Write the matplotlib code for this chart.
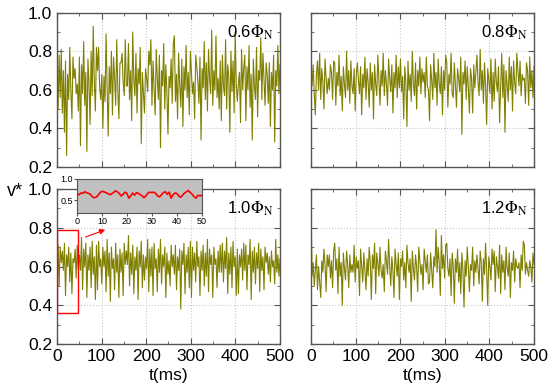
import numpy as np
import matplotlib.pyplot as plt
from matplotlib.patches import Rectangle

plt.rcParams['font.family'] = ['Liberation Sans', 'DejaVu Sans']
plt.rcParams['mathtext.fontset'] = 'stix'

# values (v* vs t, 0-500 ms)
v_06 = [0.72, 0.50, 0.78, 0.56, 0.81, 0.48, 0.70, 0.38, 0.75, 0.26, 0.68, 0.55, 0.82, 0.60, 0.45, 0.77,
        0.66, 0.71, 0.58, 0.63, 0.49, 0.77,
        0.31, 0.73, 0.58, 0.85, 0.52, 0.69, 0.28, 0.76, 0.63, 0.42, 0.80, 0.57, 0.93, 0.64, 0.49, 0.82,
        0.70, 0.82, 0.61, 0.55, 0.68, 0.40,
        0.67, 0.54, 0.89, 0.61, 0.36, 0.72, 0.58, 0.80, 0.47, 0.77, 0.66, 0.52, 0.86, 0.60, 0.45, 0.74,
        0.74, 0.79, 0.64, 0.57, 0.86, 0.62,
        0.62, 0.84, 0.55, 0.70, 0.44, 0.90, 0.65, 0.57, 0.79, 0.48, 0.71, 0.63, 0.82, 0.32, 0.69, 0.58,
        0.48, 0.71, 0.66, 0.59, 0.80, 0.73,
        0.86, 0.52, 0.75, 0.61, 0.47, 0.81, 0.66, 0.55, 0.78, 0.30, 0.70, 0.62, 0.84, 0.50, 0.73, 0.59,
        0.37, 0.67, 0.61, 0.76, 0.53, 0.84,
        0.88, 0.54, 0.68, 0.45, 0.79, 0.63, 0.51, 0.76, 0.41, 0.72, 0.60, 0.83, 0.56, 0.69, 0.47, 0.80,
        0.69, 0.58, 0.64, 0.45, 0.78, 0.72,
        0.65, 0.53, 0.77, 0.34, 0.71, 0.61, 0.85, 0.55, 0.74, 0.49, 0.81, 0.66, 0.58, 0.91, 0.52, 0.70,
        0.60, 0.88, 0.56, 0.66, 0.50, 0.75,
        0.44, 0.78, 0.62, 0.57, 0.86, 0.50, 0.73, 0.67, 0.38, 0.80, 0.59, 0.75, 0.48, 0.90, 0.63, 0.54,
        0.63, 0.69, 0.43, 0.81, 0.60, 0.71,
        0.78, 0.44, 0.72, 0.60, 0.83, 0.51, 0.68, 0.34, 0.76, 0.62, 0.55, 0.82, 0.46, 0.70, 0.65, 0.87,
        0.55, 0.79, 0.65, 0.52, 0.74, 0.68,
        0.53, 0.74, 0.41, 0.69, 0.60, 0.78, 0.33, 0.70, 0.62, 0.83, 0.58, 0.73]

v_08 = [0.70, 0.62, 0.73, 0.58, 0.47, 0.68, 0.75, 0.60, 0.79, 0.55, 0.71, 0.64, 0.50, 0.76, 0.66, 0.58,
        0.66, 0.60, 0.73, 0.69, 0.55, 0.75,
        0.74, 0.52, 0.69, 0.62, 0.78, 0.57, 0.67, 0.49, 0.72, 0.63, 0.56, 0.80, 0.60, 0.70, 0.53, 0.75,
        0.62, 0.58, 0.71, 0.49, 0.68, 0.74,
        0.65, 0.58, 0.72, 0.47, 0.68, 0.61, 0.77, 0.55, 0.71, 0.64, 0.51, 0.74, 0.60, 0.69, 0.45, 0.73,
        0.63, 0.57, 0.78, 0.65, 0.52, 0.70,
        0.62, 0.79, 0.57, 0.70, 0.63, 0.52, 0.76, 0.66, 0.59, 0.73, 0.48, 0.69, 0.61, 0.78, 0.56, 0.72,
        0.61, 0.76, 0.59, 0.67, 0.45, 0.72,
        0.64, 0.41, 0.75, 0.60, 0.68, 0.54, 0.80, 0.63, 0.57, 0.74, 0.50, 0.70, 0.62, 0.77, 0.58, 0.71,
        0.64, 0.69, 0.56, 0.77, 0.62, 0.60,
        0.44, 0.73, 0.65, 0.55, 0.79, 0.61, 0.69, 0.52, 0.76, 0.63, 0.58, 0.72, 0.47, 0.70, 0.60, 0.78,
        0.74, 0.51, 0.68, 0.63, 0.79, 0.58,
        0.56, 0.74, 0.62, 0.51, 0.71, 0.66, 0.59, 0.77, 0.37, 0.69, 0.63, 0.75, 0.55, 0.72, 0.61, 0.48,
        0.71, 0.66, 0.48, 0.73, 0.61, 0.69,
        0.78, 0.64, 0.57, 0.81, 0.60, 0.70, 0.53, 0.74, 0.62, 0.42, 0.71, 0.65, 0.58, 0.76, 0.50, 0.69,
        0.54, 0.76, 0.64, 0.59, 0.72, 0.43,
        0.61, 0.79, 0.56, 0.73, 0.38, 0.70, 0.63, 0.54, 0.77, 0.60, 0.72, 0.49, 0.75, 0.64, 0.58, 0.79,
        0.70, 0.62, 0.75, 0.57, 0.68, 0.65,
        0.66, 0.53, 0.74, 0.70, 0.52, 0.77, 0.61, 0.70, 0.56, 0.72]

v_10 = [0.66, 0.71, 0.50, 0.70, 0.62, 0.68, 0.58, 0.72, 0.45, 0.66, 0.60, 0.70, 0.52, 0.67, 0.46, 0.64,
        0.62, 0.69, 0.54, 0.71, 0.58, 0.66,
        0.58, 0.75, 0.48, 0.69, 0.60, 0.72, 0.44, 0.66, 0.58, 0.70, 0.49, 0.73, 0.56, 0.65, 0.43, 0.71,
        0.48, 0.73, 0.60, 0.64, 0.51, 0.70,
        0.60, 0.68, 0.47, 0.74, 0.55, 0.67, 0.42, 0.70, 0.59, 0.64, 0.48, 0.72, 0.57, 0.66, 0.44, 0.69,
        0.57, 0.67, 0.45, 0.72, 0.61, 0.68,
        0.61, 0.76, 0.50, 0.67, 0.56, 0.71, 0.46, 0.65, 0.58, 0.70, 0.43, 0.68, 0.60, 0.73, 0.49, 0.66,
        0.53, 0.65, 0.59, 0.74, 0.47, 0.69,
        0.55, 0.70, 0.45, 0.72, 0.59, 0.64, 0.47, 0.69, 0.57, 0.74, 0.51, 0.66, 0.60, 0.70, 0.44, 0.67,
        0.56, 0.63, 0.50, 0.71, 0.60, 0.66,
        0.56, 0.71, 0.48, 0.65, 0.58, 0.69, 0.38, 0.68, 0.61, 0.72, 0.46, 0.66, 0.57, 0.70, 0.49, 0.73,
        0.44, 0.70, 0.58, 0.67, 0.52, 0.73,
        0.60, 0.65, 0.45, 0.68, 0.58, 0.71, 0.50, 0.67, 0.55, 0.74, 0.47, 0.69, 0.61, 0.66, 0.44, 0.70,
        0.61, 0.64, 0.49, 0.68, 0.57, 0.71,
        0.57, 0.72, 0.52, 0.68, 0.59, 0.75, 0.46, 0.67, 0.56, 0.70, 0.49, 0.73, 0.60, 0.65, 0.45, 0.69,
        0.46, 0.66, 0.60, 0.69, 0.53, 0.72,
        0.58, 0.71, 0.48, 0.66, 0.61, 0.74, 0.43, 0.68, 0.57, 0.70, 0.51, 0.67, 0.59, 0.72, 0.47, 0.69,
        0.58, 0.65, 0.48, 0.70, 0.62, 0.67,
        0.56, 0.65, 0.52, 0.68, 0.60, 0.63, 0.51, 0.74, 0.57, 0.66, 0.55, 0.64]

v_12 = [0.91, 0.55, 0.62, 0.50, 0.58, 0.66, 0.48, 0.60, 0.52, 0.44, 0.63, 0.57, 0.69, 0.61, 0.47, 0.66,
        0.60, 0.66, 0.54, 0.63, 0.49, 0.68,
        0.72, 0.58, 0.64, 0.46, 0.70, 0.55, 0.62, 0.40, 0.67, 0.59, 0.53, 0.68, 0.61, 0.49, 0.66, 0.57,
        0.61, 0.57, 0.71, 0.52, 0.65, 0.59,
        0.63, 0.45, 0.69, 0.60, 0.52, 0.67, 0.58, 0.48, 0.64, 0.55, 0.70, 0.62, 0.43, 0.66, 0.59, 0.72,
        0.46, 0.67, 0.62, 0.55, 0.70, 0.58,
        0.54, 0.61, 0.47, 0.68, 0.63, 0.56, 0.74, 0.60, 0.50, 0.65, 0.58, 0.44, 0.69, 0.61, 0.55, 0.67,
        0.43, 0.64, 0.60, 0.68, 0.53, 0.62,
        0.49, 0.71, 0.62, 0.57, 0.64, 0.42, 0.68, 0.59, 0.53, 0.66, 0.60, 0.47, 0.70, 0.63, 0.56, 0.61,
        0.48, 0.69, 0.63, 0.57, 0.66, 0.51,
        0.52, 0.67, 0.58, 0.49, 0.65, 0.60, 0.79, 0.57, 0.70, 0.62, 0.45, 0.76, 0.59, 0.66, 0.54, 0.71,
        0.72, 0.59, 0.55, 0.64, 0.45, 0.67,
        0.60, 0.41, 0.64, 0.57, 0.69, 0.52, 0.62, 0.46, 0.67, 0.58, 0.39, 0.63, 0.55, 0.70, 0.60, 0.47,
        0.61, 0.58, 0.70, 0.50, 0.63, 0.57,
        0.66, 0.59, 0.51, 0.68, 0.62, 0.42, 0.64, 0.56, 0.72, 0.58, 0.40, 0.65, 0.60, 0.53, 0.69, 0.61,
        0.68, 0.47, 0.65, 0.60, 0.54, 0.71,
        0.46, 0.66, 0.57, 0.63, 0.48, 0.70, 0.59, 0.55, 0.67, 0.44, 0.62, 0.58, 0.68, 0.52, 0.64, 0.60,
        0.59, 0.62, 0.49, 0.66, 0.58, 0.73,
        0.71, 0.56, 0.62, 0.58, 0.55, 0.63, 0.60, 0.52, 0.67, 0.61]

# zoom of the first 50 ms at 1.0 Phi_N
v_zoom = [0.65, 0.63, 0.67, 0.66, 0.70, 0.68, 0.66, 0.64, 0.58, 0.56, 0.57, 0.62, 0.68, 0.71, 0.70, 0.68,
          0.66, 0.63, 0.65, 0.68, 0.72, 0.70, 0.66, 0.60, 0.64, 0.69, 0.66, 0.55, 0.60, 0.67, 0.62, 0.68,
          0.66, 0.63, 0.60, 0.56, 0.61, 0.67, 0.69, 0.68, 0.69, 0.66, 0.60, 0.58, 0.63, 0.68, 0.70, 0.64,
          0.69, 0.55, 0.63, 0.67, 0.66, 0.60, 0.57, 0.62, 0.67, 0.70, 0.73, 0.68, 0.64, 0.58, 0.55, 0.62,
          0.60, 0.62]

series = [v_06, v_08, v_10, v_12]
labels = ['0.6', '0.8', '1.0', '1.2']

LINE = '#7f7f00'
FRAME = '#555555'


def style_axes(ax, show_x, show_y):
    ax.set_xlim(0, 500)
    ax.set_ylim(0.2, 1.0)
    ax.set_xticks(np.arange(0, 501, 100))
    ax.set_xticks(np.arange(50, 500, 100), minor=True)
    ax.set_yticks(np.arange(0.2, 1.01, 0.2))
    ax.set_yticks(np.arange(0.3, 1.0, 0.2), minor=True)
    ax.grid(True, which='major', color='#c8c8c8', linestyle=':', linewidth=0.8)
    ax.tick_params(which='both', direction='in', top=True, right=True,
                   color=FRAME, labelsize=12.5)
    ax.tick_params(which='major', length=4)
    ax.tick_params(which='minor', length=2)
    for s in ax.spines.values():
        s.set_color(FRAME)
        s.set_linewidth(1.0)
    if not show_x:
        ax.tick_params(labelbottom=False)
    if not show_y:
        ax.tick_params(labelleft=False)
    else:
        ax.yaxis.set_major_formatter(plt.FormatStrFormatter('%.1f'))


fig = plt.figure(figsize=(5.5, 3.87), dpi=100)
positions = [[0.1036, 0.5685, 0.4055, 0.3987],
             [0.5655, 0.5685, 0.4055, 0.3987],
             [0.1036, 0.1111, 0.4055, 0.4005],
             [0.5655, 0.1111, 0.4055, 0.4005]]

axes = []
for i, (pos, v, lab) in enumerate(zip(positions, series, labels)):
    ax = fig.add_axes(pos)
    t = np.linspace(0, 500, len(v))
    ax.plot(t, v, color=LINE, linewidth=0.8)
    style_axes(ax, show_x=(i >= 2), show_y=(i % 2 == 0))
    ax.text(0.97, 0.93, lab + r'$\Phi_{\rm N}$', transform=ax.transAxes,
            ha='right', va='top', fontsize=12)
    if i >= 2:
        ax.set_xlabel('t(ms)', fontsize=12.5, labelpad=3)
    axes.append(ax)

fig.text(0.028, 0.505, 'v*', fontsize=13, ha='center', va='center')

# zoom box and arrow on the 1.0 panel
ax = axes[2]
ax.add_patch(Rectangle((0, 0.36), 47, 0.43, fill=False, edgecolor='red',
                       linewidth=1.0, zorder=5))
ax.annotate('', xy=(114, 0.795), xytext=(58, 0.747),
            arrowprops=dict(arrowstyle='-|>', color='red', lw=0.8,
                            mutation_scale=8))

# inset
ins = fig.add_axes([0.14, 0.4496, 0.227, 0.0879])
ins.set_facecolor('#c0c0c0')
tz = np.linspace(0, 50, len(v_zoom))
ins.plot(tz, v_zoom, color='red', linewidth=1.2)
ins.set_xlim(0, 50)
ins.set_ylim(0.2, 1.0)
ins.set_xticks(np.arange(0, 51, 10))
ins.set_yticks([0.5, 1.0])
ins.yaxis.set_major_formatter(plt.FormatStrFormatter('%.1f'))
ins.tick_params(direction='out', labelsize=6.5, length=2, pad=1, color=FRAME)
for s in ins.spines.values():
    s.set_color(FRAME)
    s.set_linewidth(0.8)

fig.savefig('out.png', dpi=100)
